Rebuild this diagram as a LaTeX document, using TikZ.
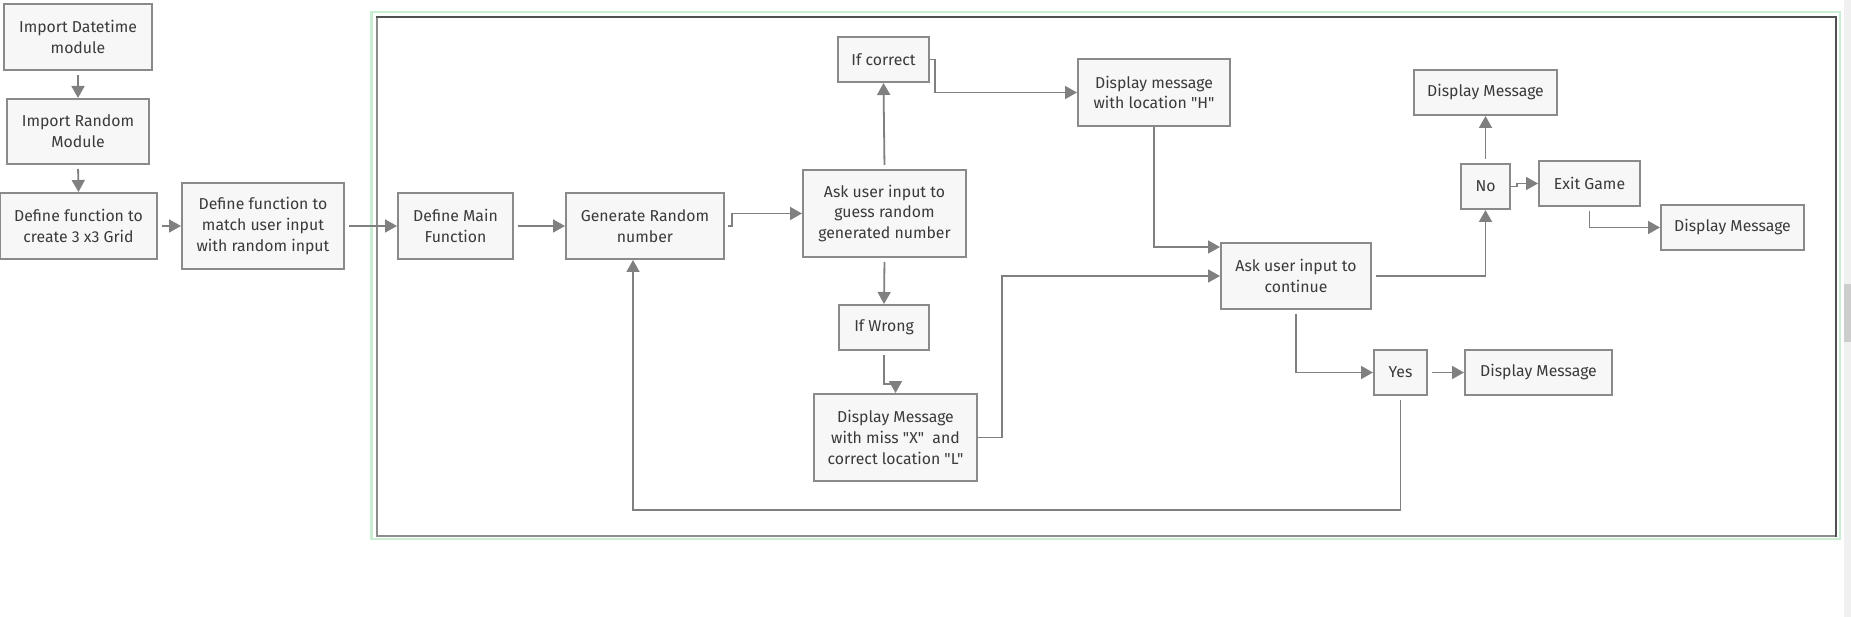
\documentclass[tikz,border=0pt]{standalone}
\usepackage{fontspec}
\setmainfont{Fira Sans}[Ligatures=TeXOff]
\usetikzlibrary{arrows.meta,calc}
\definecolor{boxfill}{HTML}{F7F7F7}
\definecolor{boxline}{HTML}{8A8A8A}
\definecolor{txt}{HTML}{3A3A3A}
\definecolor{conn}{HTML}{808080}
\definecolor{framegreen}{HTML}{C9EDD2}
\definecolor{framedark}{HTML}{505050}
\definecolor{framegrey}{HTML}{8C8C8C}
\definecolor{scrollbg}{HTML}{F0F0F0}
\definecolor{scrollthumb}{HTML}{CDCDCD}
\begin{document}
\begin{tikzpicture}[x=1pt,y=-1pt,
  stepbox/.style={draw=boxline,fill=boxfill,line width=2pt,inner sep=0pt,
    align=center,text=txt,font=\fontsize{15.8}{20.8}\selectfont},
  conline/.style={draw=conn,line width=1.8pt,
    -{Triangle[length=12pt,width=13pt]},shorten <=4pt}]
\useasboundingbox (0,0) rectangle (1851,617);
% scrollbar
\fill[scrollbg] (1844,0) rectangle (1851,617);
\fill[scrollthumb] (1844,284) rectangle (1851,342);
% frames
\draw[framegreen,line width=2.8pt] (371.5,12) rectangle (1840,539);
\draw[framegrey,line width=2pt] (1836,536) -- (377,536) -- (377,17);
\draw[framedark,line width=2pt,line cap=rect] (377,17) -- (1836,17) -- (1836,536);
% nodes
\node[stepbox,minimum width=148pt,minimum height=66pt] (dt) at (78,37) {Import Datetime\\module};
\node[stepbox,minimum width=142pt,minimum height=65pt] (rm) at (78,131.5) {Import Random\\Module};
\node[stepbox,minimum width=157pt,minimum height=66pt] (grid) at (78.5,226) {Define function to\\create 3 x3 Grid};
\node[stepbox,minimum width=162pt,minimum height=86pt] (match) at (263,226) {Define function to\\match user input\\with random input};
\node[stepbox,minimum width=115pt,minimum height=66pt] (main) at (455.5,226) {Define Main\\Function};
\node[stepbox,minimum width=158pt,minimum height=66pt] (gen) at (645,226) {Generate Random\\number};
\node[stepbox,minimum width=163pt,minimum height=87pt] (ask) at (884.5,213.5) {Ask user input to\\guess random\\generated number};
\node[stepbox,minimum width=91pt,minimum height=45pt] (corr) at (883.5,59.5) {If correct};
\node[stepbox,minimum width=90pt,minimum height=45pt] (wrong) at (884,327.5) {If Wrong};
\node[stepbox,minimum width=163pt,minimum height=87pt] (miss) at (895.5,437.5) {Display Message\\with miss "X"~ and\\correct location "L"};
\node[stepbox,minimum width=152pt,minimum height=67pt] (hloc) at (1154,92.5) {Display message\\with location "H"};
\node[stepbox,minimum width=150pt,minimum height=66pt] (cont) at (1296,276) {Ask user input to\\continue};
\node[stepbox,minimum width=143pt,minimum height=45pt] (dmtop) at (1485.5,92.5) {Display Message};
\node[stepbox,minimum width=49pt,minimum height=45pt] (no) at (1485.5,186.5) {No};
\node[stepbox,minimum width=101pt,minimum height=45pt] (exit) at (1589.5,183.5) {Exit Game};
\node[stepbox,minimum width=143pt,minimum height=45pt] (dmright) at (1732.5,227.5) {Display Message};
\node[stepbox,minimum width=53pt,minimum height=45pt] (yes) at (1400.5,372.5) {Yes};
\node[stepbox,minimum width=147pt,minimum height=45pt] (dmyes) at (1538.5,372.5) {Display Message};
% connectors
\draw[conline] (dt.south) -- (rm.north);
\draw[conline] (rm.south) -- (grid.north);
\draw[conline] (grid.east) -- (match.west);
\draw[conline] (match.east) -- (main.west);
\draw[conline] (main.east) -- (gen.west);
\draw[conline,shorten <=3pt] (gen.east) -- ($(gen.east)+(7,0)$) |- (ask.west);
\draw[conline] (ask.north) -- (corr.south);
\draw[conline,shorten <=0pt] (corr.east) -- ($(corr.east)+(5,0)$) |- (hloc.west);
\draw[conline] (ask.south) -- (wrong.north);
\draw[conline] (wrong.south) -- ($(wrong.south)+(0,33)$) -| (miss.north);
\draw[conline,shorten <=0pt] (miss.east) -- ($(miss.east)+(24,0)$) |- (cont.west);
\draw[conline,shorten <=0pt] (hloc.south) |- ($(cont.north west)+(0,5)$);
\draw[conline] (cont.east) -| (no.south);
\draw[conline] (no.north) -- (dmtop.south);
\draw[conline,shorten <=0pt] (no.east) -- ($(no.east)+(6,0)$) |- (exit.west);
\draw[conline] (exit.south) |- (dmright.west);
\draw[conline] (cont.south) |- (yes.west);
\draw[conline] (yes.east) -- (dmyes.west);
\draw[conline] (yes.south) -- ($(yes.south)+(0,114)$) -| ($(gen.south)+(-12,0)$);
\end{tikzpicture}
\end{document}
